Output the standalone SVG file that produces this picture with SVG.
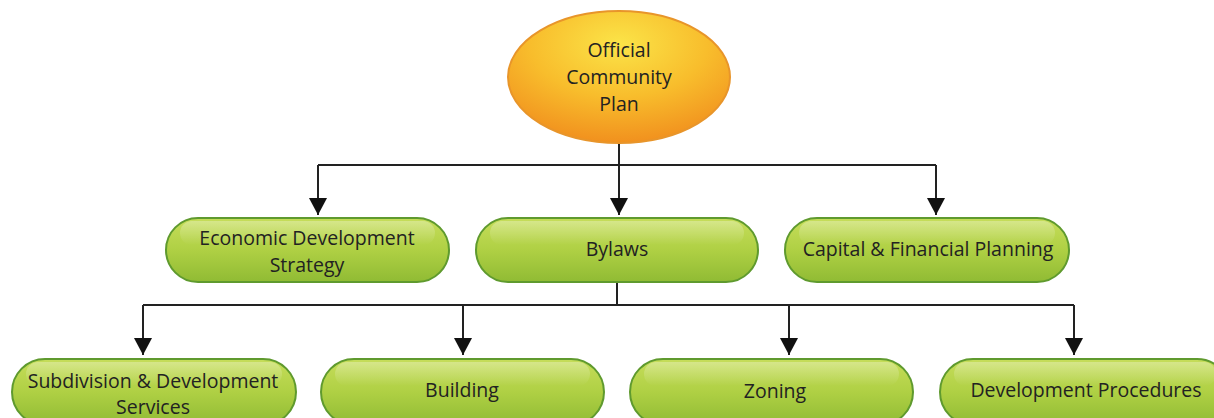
<svg xmlns="http://www.w3.org/2000/svg" width="1214" height="418" viewBox="0 0 1214 418">
<defs>
<radialGradient id="og" cx="0.5" cy="0.25" r="0.8">
<stop offset="0" stop-color="#fbe448"/>
<stop offset="0.5" stop-color="#f8bd2c"/>
<stop offset="1" stop-color="#f08a1c"/>
</radialGradient>
<linearGradient id="gg" x1="0" y1="0" x2="0" y2="1">
<stop offset="0" stop-color="#c6dd5a"/>
<stop offset="0.5" stop-color="#afd044"/>
<stop offset="1" stop-color="#90bb34"/>
</linearGradient>
<linearGradient id="hl" x1="0" y1="0" x2="0" y2="1">
<stop offset="0" stop-color="#ffffff" stop-opacity="0.3"/>
<stop offset="1" stop-color="#ffffff" stop-opacity="0"/>
</linearGradient>
<marker id="ah" viewBox="0 0 17 18" refX="17" refY="9" markerWidth="17" markerHeight="18" markerUnits="userSpaceOnUse" orient="auto">
<path d="M0,0 L17,9 L0,18 Z" fill="#111"/>
</marker>
</defs>
<style>
.box{fill:url(#gg);stroke:#5f9a2e;stroke-width:2}
.hl{fill:url(#hl)}
.t{font-family:"Open Sans","Liberation Sans",sans-serif;font-size:19.5px;fill:#222;text-anchor:middle}
.c{fill:none;stroke:#222;stroke-width:2}
</style>
<g id="connectors">
<path class="c" d="M619,143 V165"/>
<path class="c" d="M318,165 H936"/>
<path class="c" d="M318,165 V215" marker-end="url(#ah)"/>
<path class="c" d="M619,165 V215" marker-end="url(#ah)"/>
<path class="c" d="M936,165 V215" marker-end="url(#ah)"/>
<path class="c" d="M617,282 V305"/>
<path class="c" d="M143,305 H1074"/>
<path class="c" d="M143,305 V355" marker-end="url(#ah)"/>
<path class="c" d="M463,305 V355" marker-end="url(#ah)"/>
<path class="c" d="M789,305 V355" marker-end="url(#ah)"/>
<path class="c" d="M1074,305 V355" marker-end="url(#ah)"/>
</g>
<g id="ocp">
<ellipse cx="619" cy="77" rx="111" ry="66" fill="url(#og)" stroke="#e8952a" stroke-width="2"/>
<text class="t" x="619" y="57">Official</text>
<text class="t" x="619" y="84">Community</text>
<text class="t" x="619" y="111">Plan</text>
</g>
<g id="eds">
<rect class="box" x="166" y="218" width="283" height="64" rx="32"/>
<rect class="hl" x="180" y="221" width="255" height="24" rx="12"/>
<text class="t" x="307" y="245">Economic Development</text>
<text class="t" x="307" y="272">Strategy</text>
</g>
<g id="bylaws">
<rect class="box" x="476" y="218" width="282" height="64" rx="32"/>
<rect class="hl" x="490" y="221" width="254" height="24" rx="12"/>
<text class="t" x="617" y="256">Bylaws</text>
</g>
<g id="cfp">
<rect class="box" x="785" y="218" width="284" height="64" rx="32"/>
<rect class="hl" x="799" y="221" width="256" height="24" rx="12"/>
<text class="t" x="928" y="256">Capital &amp; Financial Planning</text>
</g>
<g id="sds">
<rect class="box" x="12" y="359" width="284" height="66" rx="33"/>
<rect class="hl" x="26" y="362" width="256" height="24" rx="12"/>
<text class="t" x="153" y="388">Subdivision &amp; Development</text>
<text class="t" x="153" y="414">Services</text>
</g>
<g id="building">
<rect class="box" x="321" y="359" width="283" height="66" rx="33"/>
<rect class="hl" x="335" y="362" width="255" height="24" rx="12"/>
<text class="t" x="462" y="397">Building</text>
</g>
<g id="zoning">
<rect class="box" x="630" y="359" width="283" height="66" rx="33"/>
<rect class="hl" x="644" y="362" width="255" height="24" rx="12"/>
<text class="t" x="775" y="398">Zoning</text>
</g>
<g id="dp">
<rect class="box" x="940" y="359" width="290" height="66" rx="33"/>
<rect class="hl" x="954" y="362" width="262" height="24" rx="12"/>
<text class="t" x="1086" y="397">Development Procedures</text>
</g>
</svg>
